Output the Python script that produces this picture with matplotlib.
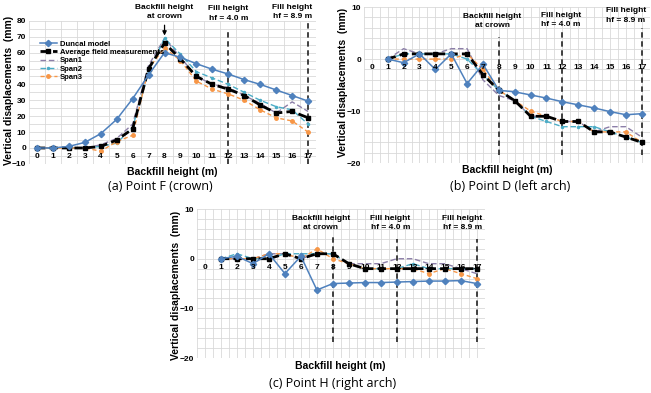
import numpy as np
import matplotlib
matplotlib.use("Agg")
import matplotlib.pyplot as plt

plt.rcParams['font.family'] = ['Liberation Sans Narrow', 'Liberation Sans', 'DejaVu Sans']

# -----------------------------
# Data
# -----------------------------
x_labels = [str(i) for i in range(18)]

# (a) Point F (crown), x = 0..17
f_duncal = [0, 0, 1, 3.5, 9, 18, 31, 46, 60, 57, 53, 49.5, 46.5, 43, 40, 36.5, 33, 29.5]
f_avg = [0, 0, 0, 0, 1, 5, 12, 50, 66, 56, 45, 40, 37, 33, 27, 22, 23, 19]
f_span1 = [0, 0, 0, 0, 2, 6, 15, 52, 69, 57, 45, 40, 38, 33, 28, 22, 29, 23]
f_span2 = [0, 0, 0, 0, 1, 3, 13, 48, 69, 59, 48, 44, 40, 35, 30, 26, 24, 15]
f_span3 = [0, 0, 0, 0, -2, 4, 8, 50, 63, 55, 42, 37, 34, 30, 24, 19, 17, 10]

# (b) Point D (left arch), x = 1..17
d_duncal = [0, -0.7, 1, -2, 1, -4.7, -1, -6, -6.3, -6.9, -7.5, -8.2, -8.8, -9.4, -10.1, -10.7, -10.5]
d_avg = [0, 1, 1, 1, 1, 1, -3, -6, -8, -11, -11, -12, -12, -14, -14, -15, -16]
d_span1 = [0, 2, 1, 1, 2, 2, -4, -7, -8, -11, -11, -12, -12, -14, -13, -13, -15]
d_span2 = [0, 1, 1, 1, 1, 0, -3, -6, -8, -11, -12, -13, -13, -13, -14, -15, -16]
d_span3 = [0, 0, 0, 0, 0, 1, -2, -6, -8, -10, -11, -12, -12, -14, -14, -14, -16]

# (c) Point H (right arch), x = 1..17
h_duncal = [0, 0.5, -1, 1, -3, 0.5, -6.3, -5, -4.9, -4.8, -4.8, -4.7, -4.6, -4.5, -4.5, -4.4, -5]
h_avg = [0, 0, 0, 0, 1, 0, 1, 1, -1, -2, -2, -2, -2, -2, -2, -2, -2]
h_span1 = [0, 0, 0, 1, 1, 0, 1, 1, -1, -1, -1, 0, 0, -1, -1, -2, -3]
h_span2 = [0, 1, 0, 0, 1, 1, 1, 1, -1, -2, -2, -2, -1, -2, -2, -2, -2]
h_span3 = [0, 0, 0, 1, 1, 0, 2, 0, -1, -2, -2, -2, -2, -3, -2, -3, -4]

series_names = ["Duncal model", "Average field measurements", "Span1", "Span2", "Span3"]

BLUE = "#4F81BD"
PURPLE = "#8C7FA8"
TEAL = "#4BACC6"
ORANGE = "#F79646"

BOLD = dict(fontweight="bold")


def draw_panel(ax, start, series, ylim, ymajor, yminor, xminor):
    xs = np.arange(start, 18)
    duncal, avg, s1, s2, s3 = series
    ax.plot(xs, s1, color=PURPLE, ls=(0, (4, 2)), lw=1.0, label=series_names[2], zorder=3)
    ax.plot(xs, s2, color=TEAL, ls=(0, (4, 2)), lw=1.0, marker="o", ms=1.5, label=series_names[3], zorder=3)
    ax.plot(xs, s3, color=ORANGE, ls=(0, (3, 2)), lw=1.0, marker="o", ms=2.5, label=series_names[4], zorder=3)
    ax.plot(xs, avg, color="black", ls=(0, (3, 1.5)), lw=2.0, marker="s", ms=3.5, label=series_names[1], zorder=4)
    ax.plot(xs, duncal, color=BLUE, lw=1.1, marker="D", ms=3.2, label=series_names[0], zorder=5)

    ax.set_xlim(-0.5, 17.5)
    ax.set_ylim(*ylim)
    ax.set_yticks(np.arange(ylim[0], ylim[1] + 0.1, ymajor))
    ax.set_yticks(np.arange(ylim[0], ylim[1] + 0.1, yminor), minor=True)
    ax.set_xticks(np.arange(-0.5, 17.6, xminor), minor=True)
    ax.set_xticks([])
    ax.grid(True, which="both", color="#D9D9D9", lw=0.6)
    ax.set_axisbelow(True)
    ax.tick_params(axis="y", which="both", length=0, labelsize=6, pad=2)
    ax.tick_params(axis="x", which="both", length=0)
    for lab in ax.get_yticklabels():
        lab.set_fontweight("bold")
    for sp in ax.spines.values():
        sp.set_visible(False)
    # category labels sit just under the zero line
    for i, lab in enumerate(x_labels):
        ax.annotate(lab, (i, 0), xytext=(0, -3.5), textcoords="offset points",
                    ha="center", va="top", fontsize=6, **BOLD, zorder=6)


def vline(ax, x, y0, y1):
    ax.plot([x, x], [y0, y1], color="#333333", ls=(0, (3, 2)), lw=1.3, zorder=2, clip_on=False)


def note(ax, x, y, txt):
    ax.text(x, y, txt, ha="center", va="center", fontsize=6, linespacing=1.55,
            clip_on=False, zorder=7, **BOLD)


fig = plt.figure(figsize=(6.51, 3.93), dpi=100)

# -----------------------------
# (a) Point F
# -----------------------------
ax_a = fig.add_axes([0.0445, 0.583, 0.441, 0.364])
draw_panel(ax_a, 0, [f_duncal, f_avg, f_span1, f_span2, f_span3], (-10, 80), 10, 5, 1)
vline(ax_a, 12, -10, 75)
vline(ax_a, 17, -10, 80)
note(ax_a, 8, 85.5, "Backfill height\nat crown")
note(ax_a, 12, 84.5, "Fill height\nhf = 4.0 m")
note(ax_a, 16.0, 85.5, "Fill height\nhf = 8.9 m")
ax_a.annotate("", xy=(8, 69), xytext=(8, 79), annotation_clip=False,
              arrowprops=dict(arrowstyle="-|>", color="black", lw=0.9, mutation_scale=6))
handles, labels = ax_a.get_legend_handles_labels()
order = [4, 3, 0, 1, 2]
leg = ax_a.legend([handles[i] for i in order], [labels[i] for i in order],
                  loc="upper left", bbox_to_anchor=(0.02, 0.9), frameon=False,
                  prop=dict(size=5.5, weight="bold"), handlelength=2.2,
                  labelspacing=0.12, borderpad=0.2, handletextpad=0.4)

# -----------------------------
# (b) Point D
# -----------------------------
ax_b = fig.add_axes([0.559, 0.585, 0.439, 0.397])
draw_panel(ax_b, 1, [d_duncal, d_avg, d_span1, d_span2, d_span3], (-20, 10), 10, 2, 0.5)
vline(ax_b, 8, -18.5, 4.2)
vline(ax_b, 12, -18.5, 5.2)
vline(ax_b, 17, -18.5, 6.0)
note(ax_b, 7.6, 7.3, "Backfill height\nat crown")
note(ax_b, 11.9, 7.5, "Fill height\nhf = 4.0 m")
note(ax_b, 16.0, 8.4, "Fill height\nhf = 8.9 m")

# -----------------------------
# (c) Point H
# -----------------------------
ax_c = fig.add_axes([0.3026, 0.089, 0.442, 0.379])
draw_panel(ax_c, 1, [h_duncal, h_avg, h_span1, h_span2, h_span3], (-20, 10), 10, 2, 0.5)
vline(ax_c, 8, -16.8, 4.4)
vline(ax_c, 12, -16.8, 4.0)
vline(ax_c, 17, -16.8, 4.0)
note(ax_c, 7.25, 7.2, "Backfill height\nat crown")
note(ax_c, 11.6, 7.2, "Fill height\nhf = 4.0 m")
note(ax_c, 16.1, 7.2, "Fill height\nhf = 8.9 m")

# -----------------------------
# Axis titles and captions
# -----------------------------
W, H = 651, 393
ylab = "Vertical disaplacements  (mm)"
fig.text(172 / W, 1 - 172 / H, "Backfill height (m)", ha="center", va="center", fontsize=7.5, **BOLD)
fig.text(507 / W, 1 - 170 / H, "Backfill height (m)", ha="center", va="center", fontsize=7.5, **BOLD)
fig.text(340 / W, 1 - 366 / H, "Backfill height (m)", ha="center", va="center", fontsize=7.5, **BOLD)
fig.text(9 / W, 1 - 90 / H, ylab, rotation=90, ha="center", va="center", fontsize=7.5, **BOLD)
fig.text(343 / W, 1 - 82 / H, ylab, rotation=90, ha="center", va="center", fontsize=7.5, **BOLD)
fig.text(176 / W, 1 - 285 / H, ylab, rotation=90, ha="center", va="center", fontsize=7.5, **BOLD)

cap = dict(ha="center", va="center", fontsize=9, family=["Open Sans", "DejaVu Sans"])
fig.text(160 / W, 1 - 187 / H, "(a) Point F (crown)", **cap)
fig.text(510 / W, 1 - 187 / H, "(b) Point D (left arch)", **cap)
fig.text(333 / W, 1 - 384 / H, "(c) Point H (right arch)", **cap)

fig.savefig("out.png", dpi=100)
